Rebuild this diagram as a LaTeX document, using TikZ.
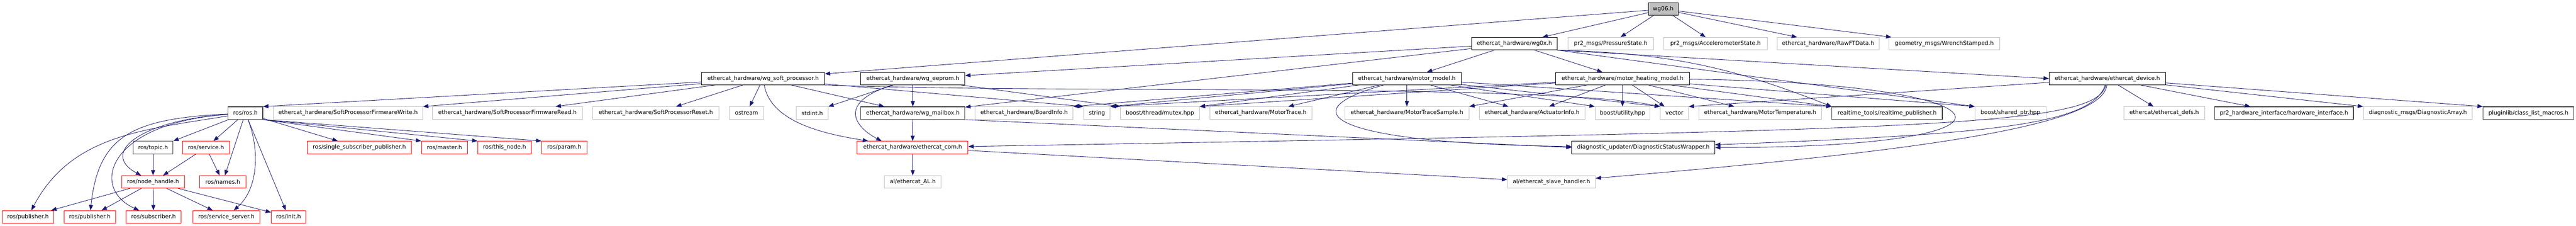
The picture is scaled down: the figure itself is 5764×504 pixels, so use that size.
\documentclass[tikz,border=0pt]{standalone}
\usepackage{fontspec}
\setmainfont{DejaVu Sans}
\usetikzlibrary{arrows.meta, calc, positioning}

\definecolor{edgeblue}{RGB}{25,25,112}
\definecolor{undocgray}{RGB}{191,191,191}

\tikzstyle{hfile}		=[rectangle, minimum height=28, inner sep=0pt, text centered, anchor=north, text=black, font=\fontsize{12.6}{15}\selectfont, line width=1pt]
\tikzstyle{current}	=[hfile, draw=black, fill=undocgray]
\tikzstyle{header}	=[hfile, draw=black]
\tikzstyle{linked}	=[hfile, draw=black!75, line width=1.4pt]
\tikzstyle{truncated}	=[hfile, draw=red]
\tikzstyle{undoc}		=[hfile, draw=undocgray]
\tikzstyle{incl}		=[draw=edgeblue, line width=1pt, -{Triangle[length=12pt, width=9pt]}]

\begin{document}
\begin{tikzpicture}[x=1pt, y=-1pt]
	\useasboundingbox (0,0) rectangle (5764,504);

	\node (pub1)			[truncated,	minimum width=115]		at (62.5, 470)		{ros/publisher.h};
	\node (pub2)			[truncated,	minimum width=116]		at (201, 470)		{ros/publisher.h};
	\node (subscriber)		[truncated,	minimum width=123]		at (343.5, 470)		{ros/subscriber.h};
	\node (srvserver)		[truncated,	minimum width=149]		at (506.5, 470)		{ros/service\_server.h};
	\node (init)			[truncated,	minimum width=77]		at (645.5, 470)		{ros/init.h};

	\node (nodehandle)		[truncated,	minimum width=141]		at (342.5, 392)		{ros/node\_handle.h}
		edge[incl] (pub1) edge[incl] (pub2) edge[incl] (subscriber) edge[incl] (srvserver) edge[incl] (init);
	\node (names)			[truncated,	minimum width=103]		at (498.5, 392)		{ros/names.h};
	\node (ethercatAL)		[undoc,		minimum width=127]		at (2042.5, 392)	{al/ethercat\_AL.h};
	\node (slavehandler)	[undoc,		minimum width=197]		at (3471.5, 392)	{al/ethercat\_slave\_handler.h};

	\node (topic)			[linked,		minimum width=89]		at (342.5, 315)		{ros/topic.h}				edge[incl] (nodehandle);
	\node (service)		[truncated,	minimum width=104]		at (461, 315)		{ros/service.h}			edge[incl] (nodehandle) edge[incl] (names);
	\node (singlesub)		[truncated,	minimum width=232]		at (804, 315)		{ros/single\_subscriber\_publisher.h};
	\node (master)			[truncated,	minimum width=103]		at (994.5, 315)		{ros/master.h};
	\node (thisnode)		[truncated,	minimum width=120]		at (1129, 315)		{ros/this\_node.h};
	\node (param)			[truncated,	minimum width=101]		at (1262.5, 315)	{ros/param.h};
	\node (eccom)			[truncated,	minimum width=248]		at (2042, 315)		{ethercat\_hardware/ethercat\_com.h}
		edge[incl] (ethercatAL) edge[incl] (slavehandler);
	\node (diagwrap)		[header,		minimum width=320]		at (3677, 315)		{diagnostic\_updater/DiagnosticStatusWrapper.h};

	\node (rosros)			[linked,		minimum width=78]		at (549, 238)		{ros/ros.h}
		edge[incl] (topic.north east) edge[incl] (service) edge[incl] (names) edge[incl] (init) edge[incl] (singlesub);
	\node (fwwrite)		[undoc,		minimum width=334]		at (779, 238)		{ethercat\_hardware/SoftProcessorFirmwareWrite.h};
	\node (fwread)			[undoc,		minimum width=335]		at (1135.5, 238)	{ethercat\_hardware/SoftProcessorFirmwareRead.h};
	\node (fwreset)		[undoc,		minimum width=283]		at (1467.5, 238)	{ethercat\_hardware/SoftProcessorReset.h};
	\node (ostream)		[undoc,		minimum width=77]		at (1670.5, 238)	{ostream};
	\node (stdint)			[undoc,		minimum width=71]		at (1817.5, 238)	{stdint.h};
	\node (mailbox)		[linked,		minimum width=233]		at (2042.5, 238)	{ethercat\_hardware/wg\_mailbox.h}	edge[incl] (eccom);
	\node (boardinfo)		[undoc,		minimum width=219]		at (2291.5, 238)	{ethercat\_hardware/BoardInfo.h};
	\node (string)			[undoc,		minimum width=59]		at (2454.5, 238)	{string};
	\node (mutex)			[undoc,		minimum width=177]		at (2595.5, 238)	{boost/thread/mutex.hpp};
	\node (motortrace)		[undoc,		minimum width=228]		at (2821, 238)		{ethercat\_hardware/MotorTrace.h};
	\node (tracesample)	[undoc,		minimum width=278]		at (3148, 238)		{ethercat\_hardware/MotorTraceSample.h};
	\node (actuator)		[undoc,		minimum width=236]		at (3428, 238)		{ethercat\_hardware/ActuatorInfo.h};
	\node (utility)		[undoc,		minimum width=123]		at (3630.5, 238)	{boost/utility.hpp};
	\node (vector)			[undoc,		minimum width=63]		at (3746.5, 238)	{vector};
	\node (motortemp)		[undoc,		minimum width=275]		at (3938.5, 238)	{ethercat\_hardware/MotorTemperature.h};
	\node (rtpub)			[linked,		minimum width=247]		at (4222.5, 238)	{realtime\_tools/realtime\_publisher.h};
	\node (sharedptr)		[undoc,		minimum width=159]		at (4498.5, 238)	{boost/shared\_ptr.hpp};
	\node (ecdefs)			[undoc,		minimum width=181]		at (4842.5, 238)	{ethercat/ethercat\_defs.h};
	\node (hwiface)		[linked,		minimum width=311]		at (5110.5, 238)	{pr2\_hardware\_interface/hardware\_interface.h};
	\node (diagarray)		[undoc,		minimum width=244]		at (5410, 238)		{diagnostic\_msgs/DiagnosticArray.h};
	\node (classlist)		[linked,		minimum width=203]		at (5657.5, 238)	{pluginlib/class\_list\_macros.h};

	\node (wgsoft)			[header,		minimum width=275]		at (1707.5, 161)	{ethercat\_hardware/wg\_soft\_processor.h}
		edge[incl] (rosros.north east) edge[incl] (fwwrite.north east) edge[incl] (fwread) edge[incl] (fwreset)
		edge[incl] (ostream) edge[incl] (mailbox) edge[incl] (string.north west);
	\node (eeprom)			[header,		minimum width=233]		at (2042.5, 161)	{ethercat\_hardware/wg\_eeprom.h}
		edge[incl] (mailbox) edge[incl] (stdint.north east) edge[incl] (mutex.north west);
	\node (motormodel)		[header,		minimum width=244]		at (3148, 161)		{ethercat\_hardware/motor\_model.h}
		edge[incl] (boardinfo.north east) edge[incl] (string.north east) edge[incl] (mutex.north east) edge[incl] (motortrace)
		edge[incl] (tracesample) edge[incl] (actuator) edge[incl] (utility.north west) edge[incl] (vector.north west) edge[incl] (rtpub.north west);
	\node (heating)		[header,		minimum width=299]		at (3630.5, 161)	{ethercat\_hardware/motor\_heating\_model.h}
		edge[incl] (string.north east) edge[incl] (mutex.north east) edge[incl] (tracesample.north east) edge[incl] (actuator)
		edge[incl] (utility) edge[incl] (vector) edge[incl] (motortemp) edge[incl] (rtpub.north west) edge[incl] (sharedptr.north west);
	\node (device)			[header,		minimum width=261]		at (4715.5, 161)	{ethercat\_hardware/ethercat\_device.h}
		edge[incl] (vector.north east) edge[incl] (ecdefs) edge[incl] (hwiface) edge[incl] (diagarray.north west) edge[incl] (classlist.north west);

	\node (wg0x)			[header,		minimum width=191]		at (3388.5, 83)		{ethercat\_hardware/wg0x.h}
		edge[incl] (eeprom) edge[incl] (mailbox) edge[incl] (motormodel) edge[incl] (heating);
	\node (pressure)		[undoc,		minimum width=192]		at (3604, 83)		{pr2\_msgs/PressureState.h};
	\node (accel)			[undoc,		minimum width=231]		at (3838.5, 83)		{pr2\_msgs/AccelerometerState.h};
	\node (rawft)			[undoc,		minimum width=229]		at (4090.5, 83)		{ethercat\_hardware/RawFTData.h};
	\node (wrench)			[undoc,		minimum width=247]		at (4350.5, 83)		{geometry\_msgs/WrenchStamped.h};

	\node (wg06)			[current,	minimum width=67]		at (3721.5, 6)		{wg06.h}
		edge[incl] (wg0x) edge[incl] (pressure) edge[incl] (accel) edge[incl] (rawft) edge[incl] (wrench) edge[incl] (wgsoft);

	% connectors leaving from a corner
	\path (wg0x.south east)		edge[incl] (device.west) edge[incl, bend left=10] (rtpub.north west) edge[incl] (sharedptr.north west);
	\path (rosros.south east)	edge[incl] (master.north west) edge[incl] (thisnode.north west) edge[incl] (param.north west);
	\path (mailbox.south east)	edge[incl] (diagwrap.west);

	% routed round other boxes
	\draw[incl] (rosros) .. controls (319,290) and (159,302) .. (pub1);
	\draw[incl] (rosros) .. controls (300,265) and (220,300) .. (pub2);
	\draw[incl] (rosros) .. controls (240,275) and (200,420) .. (subscriber);
	\draw[incl] (rosros) .. controls (320,268) and (220,340) .. (nodehandle);
	\draw[incl] (rosros) .. controls (580,330) and (580,420) .. (srvserver);
	\draw[incl] (wgsoft) .. controls (1725,275) and (1850,300) .. ($(eccom.north west)+(25,0)$);
	\draw[incl] (wgsoft.south east) .. controls (2400,210) and (3450,185) .. (vector.north west);
	\draw[incl] (eeprom) .. controls (1870,230) and (1915,285) .. ($(eccom.north west)+(55,0)$);
	\draw[incl] (motormodel) .. controls (2880,250) and (2980,320) .. (diagwrap);
	\draw[incl] (heating) .. controls (4520,185) and (4600,330) .. (diagwrap);
	\draw[incl] (device) .. controls (4680,280) and (4450,300) .. (diagwrap);
	\draw[incl] (device) .. controls (4690,285) and (4300,290) .. (eccom);
	\draw[incl] (device) .. controls (4705,290) and (4200,345) .. (slavehandler);
\end{tikzpicture}
\end{document}
